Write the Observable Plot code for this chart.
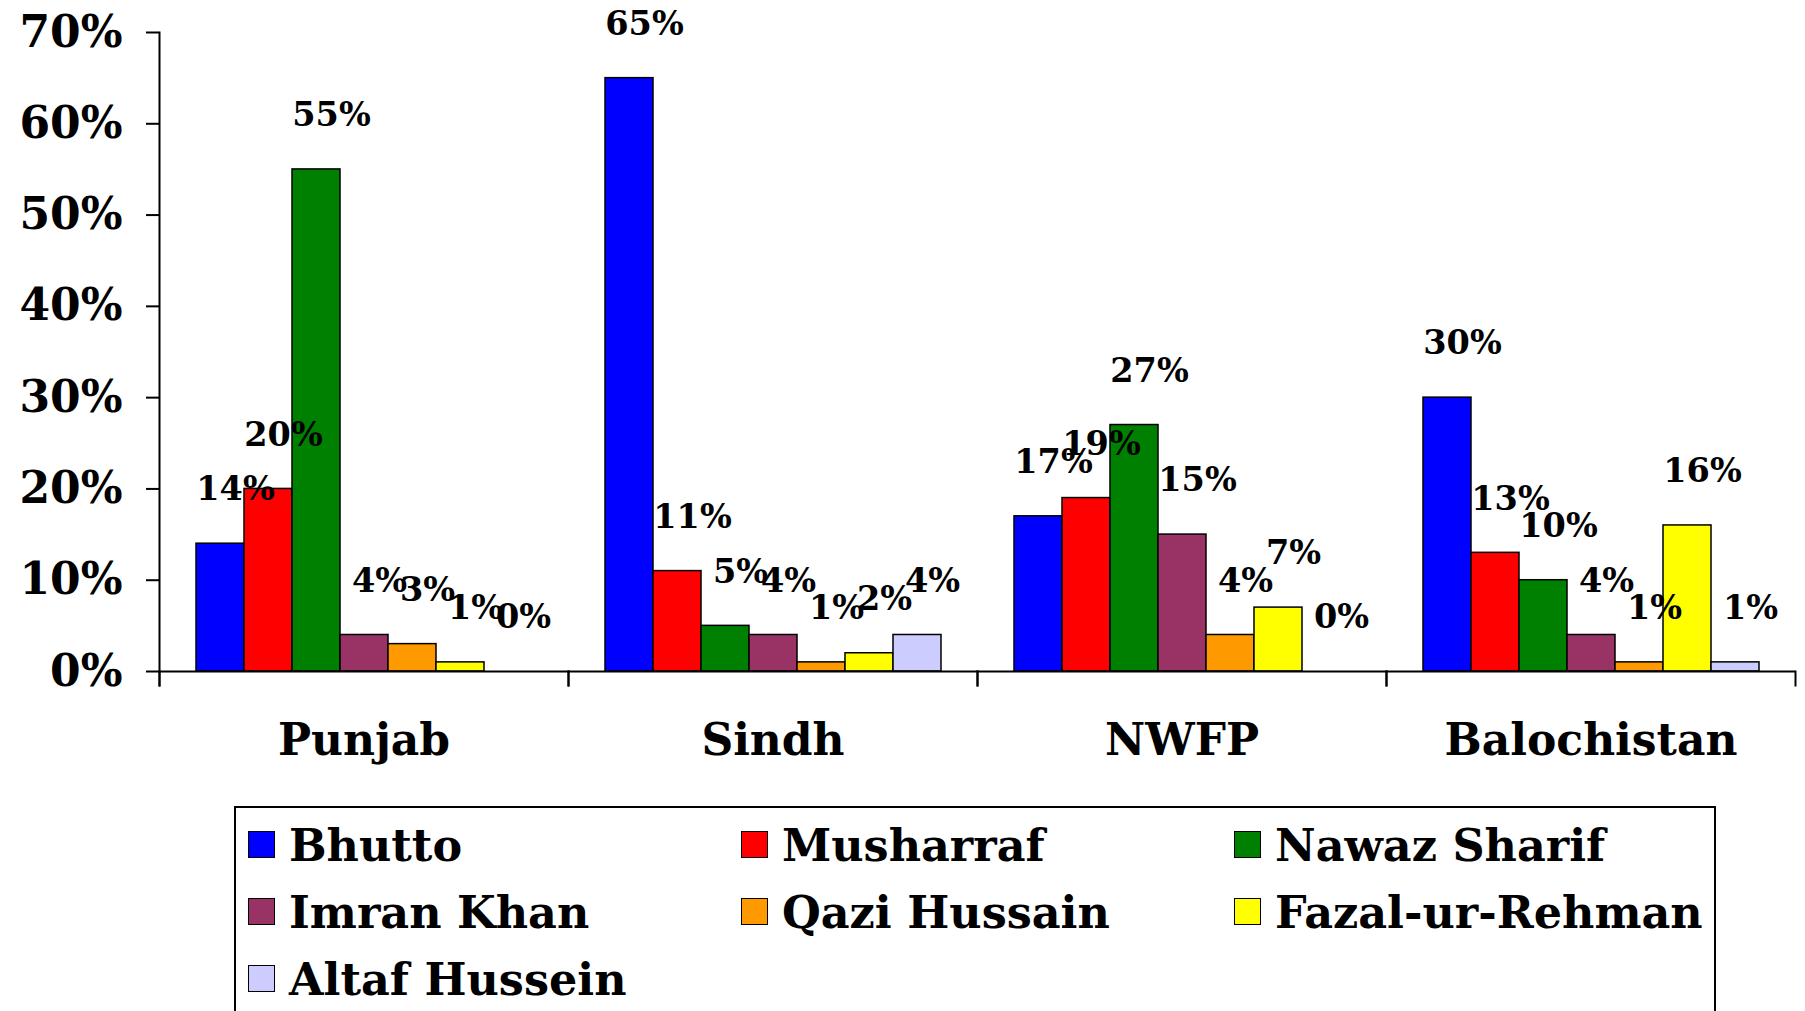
<!DOCTYPE html>
<html>
<head>
<meta charset="utf-8">
<script src="https://cdn.jsdelivr.net/npm/d3@7"></script>
<script src="https://cdn.jsdelivr.net/npm/@observablehq/plot@0.6"></script>
<style>
  html, body { margin: 0; padding: 0; background: #fff; overflow: hidden; }
  body { width: 1805px; height: 1011px; font-family: "DejaVu Serif", serif; }
  #chart svg { display: block; }
  .legend {
    position: absolute; left: 234px; top: 806px; width: 1482px; height: 260px;
    border: 2px solid #000; box-sizing: border-box; background: #fff;
    display: grid; grid-template-columns: 493px 493px 493px; grid-auto-rows: 67px;
    padding: 3px 0 0 12px;
  }
  .item { display: flex; align-items: center; font-weight: bold; font-size: 44.5px; color: #000; white-space: nowrap; }
  .sw { width: 25px; height: 25px; border: 1.5px solid #000; margin-right: 14px; flex: none; }
</style>
</head>
<body>
<div id="chart"></div>
<div class="legend" id="legend"></div>
<script>
const regions = ["Punjab", "Sindh", "NWFP", "Balochistan"];
const candidates = ["Bhutto", "Musharraf", "Nawaz Sharif", "Imran Khan", "Qazi Hussain", "Fazal-ur-Rehman", "Altaf Hussein"];
const colors = ["#0000FF", "#FF0000", "#008000", "#993366", "#FF9900", "#FFFF00", "#CCCCFF"];
const punjab = [14, 20, 55, 4, 3, 1, 0];
const sindh = [65, 11, 5, 4, 1, 2, 4];
const nwfp = [17, 19, 27, 15, 4, 7, 0];
const balochistan = [30, 13, 10, 4, 1, 16, 1];
const yTicks = [0, 10, 20, 30, 40, 50, 60, 70];

const seriesByRegion = [punjab, sindh, nwfp, balochistan];
const rows = [];
regions.forEach((r, i) => candidates.forEach((c, j) => rows.push({region: r, candidate: c, value: seriesByRegion[i][j]})));

const W = 1805, H = 790, mT = 32, mB = 119, mL = 157, mR = 9;
const plotH = H - mT - mB;
const font = "DejaVu Serif";

const chart = Plot.plot({
  width: W, height: H,
  marginTop: mT, marginBottom: mB, marginLeft: mL, marginRight: mR,
  style: {fontFamily: font, background: "#fff", color: "#000"},
  fx: {domain: regions, paddingInner: 0, paddingOuter: 0, label: null},
  x: {domain: candidates, paddingInner: 0, paddingOuter: 0.735, axis: null},
  y: {domain: [0, 70], label: null},
  color: {domain: candidates, range: colors},
  marks: [
    Plot.barY(rows, {fx: "region", x: "candidate", y: "value", fill: "candidate", stroke: "#000", strokeWidth: 1.5}),
    Plot.ruleY([0], {stroke: "#000", strokeWidth: 2}),
    Plot.frame({anchor: "left", insetTop: plotH, insetBottom: -14, stroke: "#000", strokeWidth: 2}),
    Plot.frame({anchor: "right", insetTop: plotH, insetBottom: -14, stroke: "#000", strokeWidth: 2}),
    Plot.frame({anchor: "left", facet: "super", insetBottom: -14, stroke: "#000", strokeWidth: 2}),
    Plot.axisY({ticks: yTicks, tickFormat: d => d + "%", tickSize: 13, tickPadding: 24, fontSize: 44, fontWeight: "bold", label: null, strokeWidth: 2}),
    Plot.axisFx({anchor: "bottom", tickSize: 0, tickPadding: 52, fontSize: 44, fontWeight: "bold", label: null}),
    Plot.text(rows, {fx: "region", x: "candidate", y: "value", text: d => d.value + "%", dx: 15, dy: -54, fontSize: 33.5, fontWeight: "bold", fill: "#000"})
  ]
});
document.getElementById("chart").appendChild(chart);

const legend = document.getElementById("legend");
candidates.forEach((c, i) => {
  const it = document.createElement("div");
  it.className = "item";
  const sw = document.createElement("span");
  sw.className = "sw";
  sw.style.background = colors[i];
  it.appendChild(sw);
  it.appendChild(document.createTextNode(c));
  legend.appendChild(it);
});
</script>
</body>
</html>
